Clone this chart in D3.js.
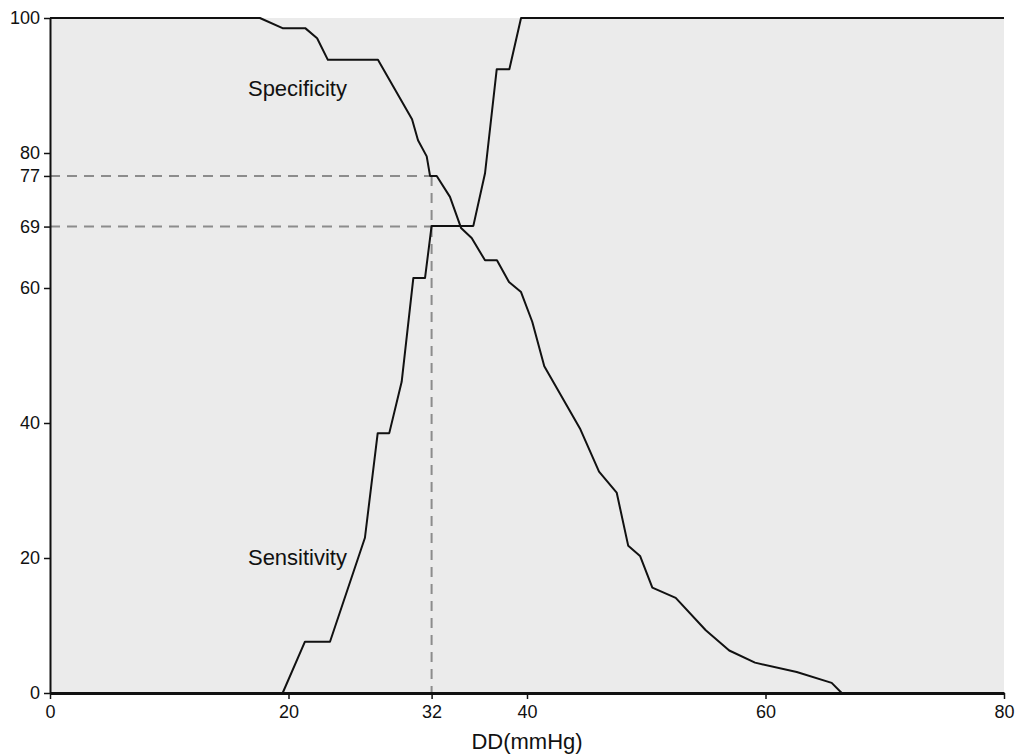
<!DOCTYPE html>
<html>
<head>
<meta charset="utf-8">
<script src="https://cdn.jsdelivr.net/npm/d3@7"></script>
<style>
  body { margin: 0; background: #fff; }
  svg { display: block; font-family: "Liberation Sans", Arial, sans-serif; }
</style>
</head>
<body>
<svg id="chart" width="1019" height="756"></svg>
<script>
// Data
const specX = [0, 17.6, 19.5, 21.4, 22.4, 23.3, 27.5, 30.36, 30.86, 31.59, 31.87, 32.43, 33.54, 34.47, 35.36, 36.48, 37.48, 38.49, 39.5, 40.44, 41.45, 44.44, 46.04, 47.52, 48.49, 49.48, 50.51, 52.47, 54.99, 56.96, 59.12, 62.62, 65.55, 66.39, 80];
const specY = [100, 100, 98.5, 98.5, 97, 93.8, 93.8, 85.0, 81.9, 79.5, 76.6, 76.6, 73.5, 68.9, 67.4, 64.1, 64.1, 60.9, 59.4, 55.0, 48.4, 39.2, 32.8, 29.7, 21.8, 20.3, 15.6, 14.1, 9.3, 6.3, 4.5, 3.1, 1.5, 0, 0];
const sensX = [0, 19.51, 21.38, 23.48, 26.41, 27.48, 28.45, 29.49, 30.47, 31.45, 32.0, 35.5, 36.48, 37.46, 38.52, 39.5, 80];
const sensY = [0, 0, 7.6, 7.6, 23.0, 38.5, 38.5, 46.1, 61.5, 61.5, 69.2, 69.2, 77.0, 92.4, 92.4, 100, 100];
const xTicks = [0, 20, 32, 40, 60, 80];
const yTicks = [0, 20, 40, 60, 69.1, 76.6, 80, 100];
const yTickLabels = ["0", "20", "40", "60", "69", "77", "80", "100"];
const cutX = 32, cutSpec = 76.6, cutSens = 69.1;
const curveLabels = [
  { text: "Specificity", x: 16.6, y: 88.4 },
  { text: "Sensitivity", x: 16.6, y: 18.9 }
];
const xTitle = "DD(mmHg)";

const svg = d3.select("#chart");
const margin = { left: 50, right: 15, top: 18, bottom: 63 };
const W = 1019, H = 756;
const x = d3.scaleLinear().domain([0, 80]).range([margin.left, W - margin.right]);
const y = d3.scaleLinear().domain([0, 100]).range([H - margin.bottom, margin.top]);

// background
svg.append("rect")
  .attr("x", x(0)).attr("y", y(100))
  .attr("width", x(80) - x(0)).attr("height", y(0) - y(100))
  .attr("fill", "#ebebeb");

// dashed reference lines
const dash = svg.append("g").attr("stroke", "#8c8c8c").attr("stroke-width", 2)
  .attr("stroke-dasharray", "10,7").attr("fill", "none");
dash.append("line").attr("x1", x(0)).attr("x2", x(cutX)).attr("y1", y(cutSpec)).attr("y2", y(cutSpec));
dash.append("line").attr("x1", x(0)).attr("x2", x(cutX)).attr("y1", y(cutSens)).attr("y2", y(cutSens));
dash.append("line").attr("x1", x(cutX)).attr("x2", x(cutX)).attr("y1", y(cutSpec)).attr("y2", y(0));

// curves
const line = d3.line().x(d => x(d[0])).y(d => y(d[1]));
svg.append("path").datum(d3.zip(specX, specY))
  .attr("d", line).attr("fill", "none").attr("stroke", "#111").attr("stroke-width", 2)
  .attr("stroke-linejoin", "round");
svg.append("path").datum(d3.zip(sensX, sensY))
  .attr("d", line).attr("fill", "none").attr("stroke", "#111").attr("stroke-width", 2)
  .attr("stroke-linejoin", "round");

// axes
const xAxis = svg.append("g").attr("transform", `translate(0,${y(0)})`)
  .call(d3.axisBottom(x).tickValues(xTicks).tickFormat(d3.format("d")).tickSize(6).tickSizeOuter(0));
const yAxis = svg.append("g").attr("transform", `translate(${x(0)},0)`)
  .call(d3.axisLeft(y).tickValues(yTicks).tickFormat((d, i) => yTickLabels[i]).tickSize(6).tickSizeOuter(0));
[xAxis, yAxis].forEach(g => {
  g.attr("font-size", 18).attr("font-family", "'Liberation Sans', Arial, sans-serif");
  g.selectAll("text").attr("fill", "#111");
  g.selectAll(".tick line").attr("stroke", "#111").attr("stroke-width", 1.5);
});
xAxis.select(".domain").attr("stroke", "#111").attr("stroke-width", 3);
yAxis.select(".domain").attr("stroke", "#111").attr("stroke-width", 2);
xAxis.selectAll("text").attr("dy", "0.9em");
yAxis.selectAll("text").attr("x", -10);

// curve labels
svg.selectAll("text.lab").data(curveLabels).enter().append("text")
  .attr("class", "lab")
  .attr("x", d => x(d.x)).attr("y", d => y(d.y))
  .attr("font-size", 22).attr("fill", "#111")
  .text(d => d.text);

// x title
svg.append("text")
  .attr("x", x(40)).attr("y", 749)
  .attr("text-anchor", "middle").attr("font-size", 22).attr("fill", "#111")
  .text(xTitle);
</script>
</body>
</html>
